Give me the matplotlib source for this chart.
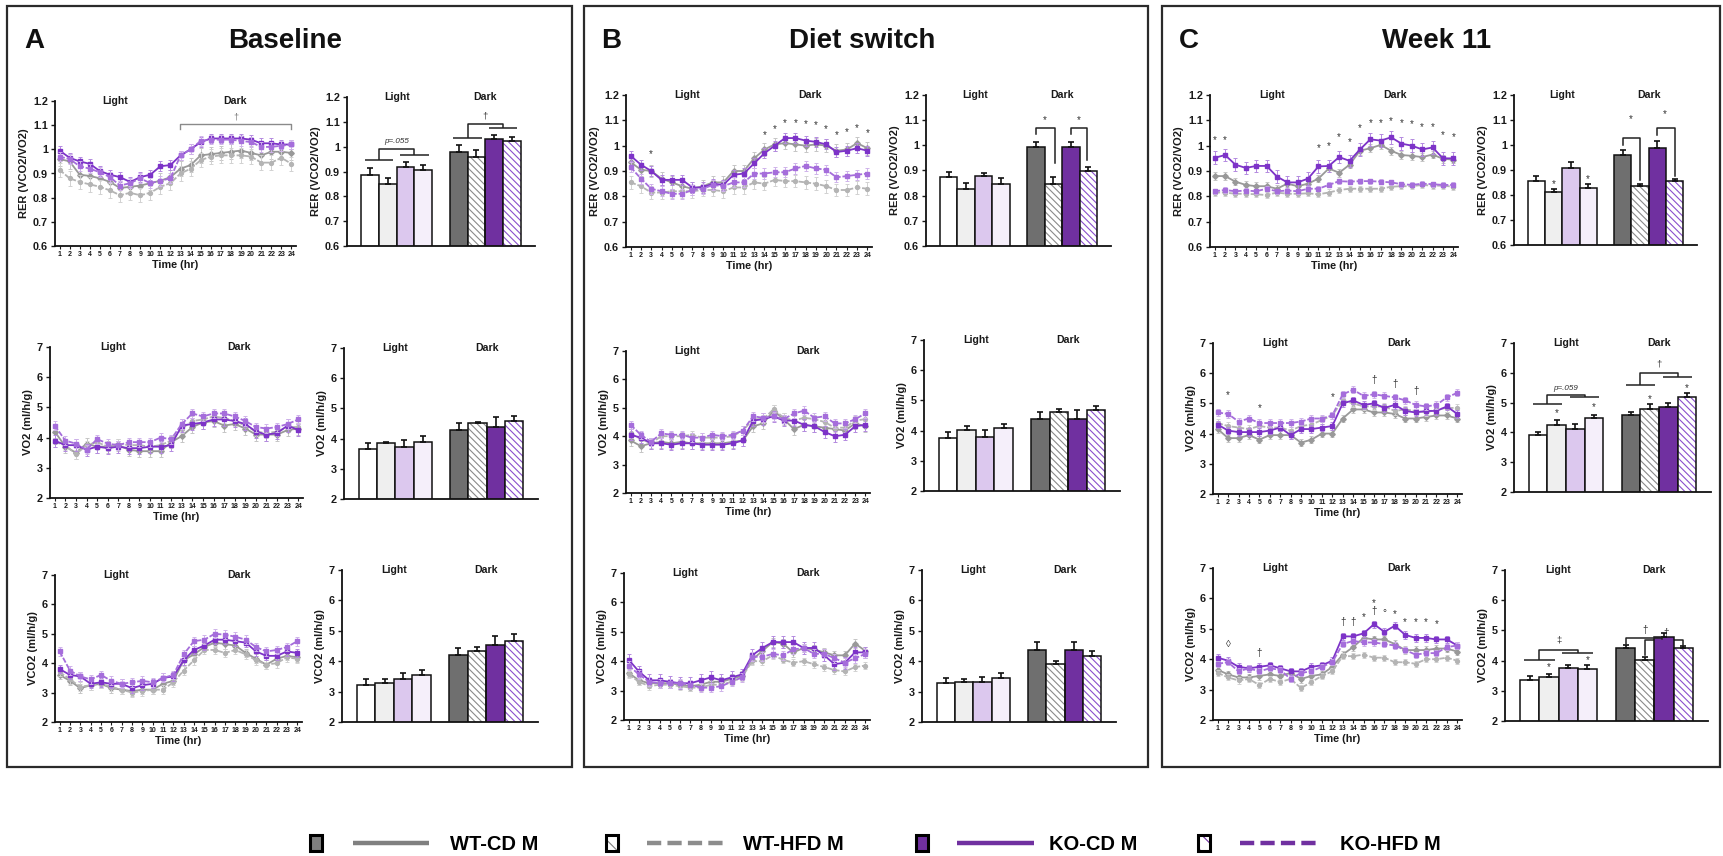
import matplotlib
matplotlib.use("Agg")
import matplotlib.pyplot as plt
import matplotlib.transforms as mtransforms
from matplotlib.patches import Rectangle

plt.rcParams['font.family'] = ['Liberation Sans', 'DejaVu Sans']
plt.rcParams['font.weight'] = 'bold'
plt.rcParams['hatch.linewidth'] = 0.8

FIG_W, FIG_H = 1723, 856

HOURS = list(range(1, 25))
GROUPS = ["WT-CD M", "WT-HFD M", "KO-CD M", "KO-HFD M"]
PHASES = ["Light", "Dark"]
PANEL_LETTERS = ["A", "B", "C"]
PANEL_TITLES = ["Baseline", "Diet switch", "Week 11"]
RER_TICKS = [0.6, 0.7, 0.8, 0.9, 1.0, 1.1, 1.2]
RER_TICKLABELS = ["0.6", "0.7", "0.8", "0.9", "1", "1.1", "1.2"]
GAS_TICKS = [2, 3, 4, 5, 6, 7]
GAS_TICKLABELS = ["2", "3", "4", "5", "6", "7"]
YLABELS = ["RER (VCO2/VO2)", "VO2 (ml/h/g)", "VCO2 (ml/h/g)"]

# ---------------- Panel A : Baseline (hourly means) ----------------
A_rer_wtcd = [0.96, 0.95, 0.895, 0.89, 0.88, 0.865, 0.84, 0.845, 0.85, 0.86, 0.87, 0.885, 0.92, 0.935, 0.975, 0.98, 0.985, 0.99, 0.995, 0.985, 0.975, 0.99, 0.99, 0.985]
A_rer_wthfd = [0.915, 0.88, 0.865, 0.855, 0.845, 0.83, 0.81, 0.82, 0.81, 0.82, 0.845, 0.86, 0.9, 0.92, 0.955, 0.97, 0.975, 0.975, 0.975, 0.97, 0.945, 0.945, 0.965, 0.94]
A_rer_kocd = [0.995, 0.965, 0.95, 0.94, 0.91, 0.895, 0.885, 0.865, 0.885, 0.895, 0.93, 0.935, 0.975, 1.0, 1.03, 1.045, 1.045, 1.045, 1.045, 1.04, 1.025, 1.025, 1.02, 1.02]
A_rer_kohfd = [0.97, 0.96, 0.93, 0.92, 0.905, 0.885, 0.85, 0.86, 0.88, 0.86, 0.87, 0.88, 0.975, 1.0, 1.035, 1.04, 1.04, 1.04, 1.035, 1.03, 1.01, 1.01, 1.015, 1.02]
A_rer_sem = [0.03, 0.03, 0.02, 0.02]

A_vo2_wtcd = [4.2, 3.7, 3.5, 3.8, 3.7, 3.7, 3.75, 3.6, 3.55, 3.55, 3.55, 3.85, 4.05, 4.35, 4.5, 4.55, 4.4, 4.45, 4.3, 4.1, 4.1, 4.1, 4.25, 4.3]
A_vo2_wthfd = [3.85, 3.75, 3.45, 3.75, 3.85, 3.7, 3.8, 3.75, 3.75, 3.7, 3.75, 3.9, 4.3, 4.55, 4.6, 4.7, 4.65, 4.55, 4.4, 4.2, 4.15, 4.2, 4.35, 4.35]
A_vo2_kocd = [3.9, 3.75, 3.75, 3.6, 3.7, 3.65, 3.7, 3.65, 3.65, 3.7, 3.7, 3.75, 4.4, 4.45, 4.5, 4.6, 4.6, 4.55, 4.45, 4.2, 4.1, 4.15, 4.4, 4.25]
A_vo2_kohfd = [4.4, 3.9, 3.8, 3.6, 3.95, 3.8, 3.75, 3.85, 3.85, 3.85, 4.0, 3.95, 4.45, 4.8, 4.7, 4.8, 4.8, 4.7, 4.55, 4.35, 4.3, 4.35, 4.45, 4.6]
A_vo2_sem = [0.2, 0.15, 0.2, 0.15]

A_vco2_wtcd = [3.6, 3.4, 3.15, 3.25, 3.3, 3.15, 3.1, 3.05, 3.1, 3.1, 3.3, 3.4, 4.1, 4.3, 4.55, 4.7, 4.65, 4.6, 4.35, 4.15, 3.95, 4.15, 4.25, 4.2]
A_vco2_wthfd = [3.7, 3.45, 3.2, 3.25, 3.3, 3.2, 3.1, 3.0, 3.05, 3.1, 3.1, 3.35, 3.75, 4.1, 4.45, 4.45, 4.35, 4.45, 4.3, 4.1, 3.95, 4.0, 4.2, 4.15]
A_vco2_kocd = [3.8, 3.6, 3.55, 3.3, 3.35, 3.3, 3.3, 3.15, 3.25, 3.3, 3.5, 3.55, 4.1, 4.45, 4.6, 4.8, 4.8, 4.75, 4.7, 4.4, 4.25, 4.25, 4.4, 4.35]
A_vco2_kohfd = [4.4, 3.75, 3.55, 3.45, 3.6, 3.4, 3.3, 3.35, 3.4, 3.35, 3.5, 3.6, 4.3, 4.75, 4.8, 5.0, 4.97, 4.9, 4.8, 4.55, 4.4, 4.45, 4.55, 4.75]
A_vco2_sem = [0.15, 0.15, 0.15, 0.15]

# ---------------- Panel B : Diet switch ----------------
B_rer_wtcd = [0.935, 0.905, 0.9, 0.87, 0.855, 0.84, 0.83, 0.84, 0.855, 0.855, 0.9, 0.9, 0.95, 0.985, 1.005, 1.01, 1.005, 1.0, 1.005, 1.0, 0.98, 0.985, 1.01, 0.99]
B_rer_wthfd = [0.855, 0.84, 0.815, 0.815, 0.82, 0.82, 0.82, 0.825, 0.825, 0.82, 0.835, 0.835, 0.855, 0.85, 0.865, 0.86, 0.86, 0.855, 0.85, 0.84, 0.825, 0.825, 0.835, 0.83]
B_rer_kocd = [0.96, 0.925, 0.9, 0.865, 0.865, 0.865, 0.835, 0.835, 0.85, 0.845, 0.885, 0.89, 0.93, 0.97, 1.0, 1.03, 1.03, 1.02, 1.015, 1.005, 0.975, 0.98, 0.99, 0.98]
B_rer_kohfd = [0.915, 0.87, 0.83, 0.82, 0.81, 0.81, 0.825, 0.83, 0.845, 0.84, 0.855, 0.855, 0.89, 0.89, 0.895, 0.895, 0.91, 0.92, 0.91, 0.905, 0.875, 0.88, 0.885, 0.89]
B_rer_sem = [0.025, 0.025, 0.02, 0.02]

B_vo2_wtcd = [3.85, 3.65, 3.75, 3.8, 3.75, 3.8, 3.75, 3.75, 3.75, 3.75, 3.8, 3.85, 4.35, 4.45, 4.9, 4.6, 4.25, 4.4, 4.35, 4.3, 4.25, 4.2, 4.45, 4.35]
B_vo2_wthfd = [4.1, 3.9, 3.75, 4.0, 4.0, 4.0, 4.05, 3.95, 3.95, 3.95, 4.0, 4.2, 4.6, 4.6, 4.95, 4.65, 4.55, 4.65, 4.6, 4.5, 4.3, 4.3, 4.55, 4.6]
B_vo2_kocd = [4.05, 3.95, 3.75, 3.75, 3.7, 3.75, 3.75, 3.7, 3.7, 3.7, 3.75, 3.85, 4.55, 4.6, 4.7, 4.55, 4.55, 4.4, 4.35, 4.15, 4.0, 4.05, 4.35, 4.4]
B_vo2_kohfd = [4.4, 4.05, 3.8, 4.1, 4.05, 4.05, 3.95, 3.95, 4.05, 4.0, 4.05, 4.2, 4.7, 4.65, 4.7, 4.6, 4.8, 4.9, 4.65, 4.7, 4.45, 4.45, 4.6, 4.8]
B_vo2_sem = [0.2, 0.15, 0.2, 0.15]

B_vco2_wtcd = [3.6, 3.35, 3.25, 3.25, 3.25, 3.2, 3.15, 3.2, 3.3, 3.3, 3.4, 3.5, 4.05, 4.35, 4.65, 4.6, 4.3, 4.45, 4.4, 4.3, 4.2, 4.2, 4.6, 4.35]
B_vco2_wthfd = [3.55, 3.3, 3.15, 3.2, 3.2, 3.15, 3.1, 3.1, 3.2, 3.2, 3.3, 3.45, 4.0, 4.0, 4.2, 4.05, 3.95, 4.0, 3.9, 3.8, 3.7, 3.65, 3.8, 3.85]
B_vco2_kocd = [4.05, 3.65, 3.35, 3.35, 3.3, 3.25, 3.25, 3.35, 3.45, 3.35, 3.45, 3.55, 4.2, 4.45, 4.65, 4.65, 4.65, 4.45, 4.45, 4.2, 3.9, 3.95, 4.3, 4.3]
B_vco2_kohfd = [3.85, 3.55, 3.3, 3.25, 3.25, 3.25, 3.2, 3.1, 3.1, 3.15, 3.3, 3.45, 4.15, 4.15, 4.25, 4.2, 4.4, 4.45, 4.25, 4.25, 4.1, 3.95, 4.1, 4.25]
B_vco2_sem = [0.15, 0.12, 0.2, 0.15]

# ---------------- Panel C : Week 11 ----------------
C_rer_wtcd = [0.88, 0.88, 0.858, 0.845, 0.84, 0.84, 0.83, 0.85, 0.84, 0.85, 0.87, 0.91, 0.893, 0.925, 0.98, 0.99, 1.003, 0.98, 0.963, 0.96, 0.955, 0.965, 0.948, 0.945]
C_rer_wthfd = [0.815, 0.815, 0.81, 0.81, 0.808, 0.805, 0.815, 0.81, 0.81, 0.812, 0.808, 0.815, 0.825, 0.83, 0.83, 0.83, 0.83, 0.838, 0.84, 0.84, 0.845, 0.842, 0.842, 0.838]
C_rer_kocd = [0.952, 0.963, 0.925, 0.912, 0.92, 0.92, 0.878, 0.855, 0.855, 0.87, 0.918, 0.92, 0.955, 0.94, 0.985, 1.025, 1.02, 1.033, 1.008, 1.0, 0.985, 0.993, 0.95, 0.95]
C_rer_kohfd = [0.82, 0.825, 0.82, 0.823, 0.82, 0.83, 0.82, 0.823, 0.82, 0.83, 0.83, 0.845, 0.86, 0.858, 0.86, 0.86, 0.858, 0.855, 0.848, 0.845, 0.85, 0.848, 0.845, 0.845]
C_rer_sem = [0.015, 0.012, 0.025, 0.01]

C_vo2_wtcd = [4.15, 3.85, 3.85, 3.95, 3.8, 3.95, 3.95, 3.95, 3.7, 3.8, 4.0, 4.0, 4.5, 4.8, 4.8, 4.7, 4.7, 4.65, 4.5, 4.5, 4.55, 4.6, 4.6, 4.5]
C_vo2_wthfd = [4.35, 4.25, 4.2, 4.15, 4.25, 4.2, 4.2, 4.1, 4.25, 4.3, 4.45, 4.6, 5.1, 5.0, 4.9, 4.9, 4.9, 4.75, 4.8, 4.75, 4.7, 4.8, 4.85, 4.85]
C_vo2_kocd = [4.3, 4.1, 4.05, 4.05, 4.05, 4.1, 4.2, 3.95, 4.15, 4.15, 4.2, 4.25, 5.0, 5.1, 4.95, 5.0, 4.85, 4.95, 4.75, 4.7, 4.75, 4.75, 4.9, 4.65]
C_vo2_kohfd = [4.7, 4.65, 4.4, 4.5, 4.35, 4.35, 4.35, 4.35, 4.4, 4.5, 4.5, 4.6, 5.3, 5.45, 5.25, 5.3, 5.25, 5.2, 5.1, 4.95, 4.9, 4.95, 5.2, 5.35]
C_vo2_sem = [0.12, 0.12, 0.12, 0.12]

C_vco2_wtcd = [3.65, 3.5, 3.4, 3.4, 3.45, 3.5, 3.45, 3.55, 3.35, 3.45, 3.5, 3.75, 4.15, 4.4, 4.7, 4.65, 4.65, 4.5, 4.3, 4.3, 4.3, 4.35, 4.35, 4.25]
C_vco2_wthfd = [3.55, 3.4, 3.3, 3.35, 3.15, 3.35, 3.25, 3.35, 3.05, 3.25, 3.45, 3.6, 4.1, 4.1, 4.15, 4.05, 4.05, 3.9, 3.9, 3.85, 4.0, 4.0, 4.05, 3.95]
C_vco2_kocd = [4.05, 3.95, 3.75, 3.7, 3.75, 3.8, 3.7, 3.6, 3.6, 3.75, 3.8, 3.95, 4.75, 4.75, 4.85, 5.15, 4.9, 5.1, 4.8, 4.7, 4.7, 4.65, 4.65, 4.45]
C_vco2_kohfd = [3.85, 3.9, 3.6, 3.7, 3.6, 3.7, 3.65, 3.35, 3.55, 3.6, 3.75, 3.9, 4.5, 4.6, 4.55, 4.55, 4.5, 4.45, 4.3, 4.15, 4.2, 4.2, 4.4, 4.45]
C_vco2_sem = [0.12, 0.1, 0.12, 0.1]

# ---------------- Light / Dark phase means (bars), order WT-CD, WT-HFD, KO-CD, KO-HFD ----------------
A_rer_light = [0.885, 0.85, 0.918, 0.907];  A_rer_light_err = [0.03, 0.025, 0.02, 0.02]
A_rer_dark = [0.977, 0.96, 1.03, 1.022];    A_rer_dark_err = [0.03, 0.025, 0.018, 0.017]
A_vo2_light = [3.65, 3.87, 3.73, 3.9];      A_vo2_light_err = [0.2, 0.02, 0.22, 0.17]
A_vo2_dark = [4.3, 4.52, 4.4, 4.58];        A_vo2_dark_err = [0.22, 0.02, 0.3, 0.17]
A_vco2_light = [3.22, 3.28, 3.4, 3.53];     A_vco2_light_err = [0.2, 0.12, 0.2, 0.17]
A_vco2_dark = [4.2, 4.33, 4.52, 4.68];      A_vco2_dark_err = [0.25, 0.15, 0.3, 0.2]

B_rer_light = [0.875, 0.825, 0.877, 0.847]; B_rer_light_err = [0.02, 0.025, 0.015, 0.022]
B_rer_dark = [0.995, 0.848, 0.995, 0.897];  B_rer_dark_err = [0.02, 0.025, 0.017, 0.018]
B_vo2_light = [3.75, 4.03, 3.8, 4.07];      B_vo2_light_err = [0.2, 0.12, 0.22, 0.15]
B_vo2_dark = [4.4, 4.62, 4.4, 4.68];        B_vo2_dark_err = [0.22, 0.1, 0.28, 0.15]
B_vco2_light = [3.27, 3.3, 3.3, 3.44];      B_vco2_light_err = [0.17, 0.1, 0.18, 0.17]
B_vco2_dark = [4.37, 3.9, 4.37, 4.18];      B_vco2_dark_err = [0.25, 0.12, 0.27, 0.17]

C_rer_light = [0.858, 0.813, 0.91, 0.828];  C_rer_light_err = [0.018, 0.012, 0.022, 0.015]
C_rer_dark = [0.962, 0.838, 0.988, 0.855];  C_rer_dark_err = [0.018, 0.008, 0.03, 0.01]
C_vo2_light = [3.9, 4.25, 4.12, 4.47];      C_vo2_light_err = [0.12, 0.15, 0.15, 0.12]
C_vo2_dark = [4.6, 4.8, 4.85, 5.18];        C_vo2_dark_err = [0.1, 0.15, 0.15, 0.13]
C_vco2_light = [3.35, 3.47, 3.75, 3.72];    C_vco2_light_err = [0.13, 0.1, 0.12, 0.12]
C_vco2_dark = [4.42, 4.03, 4.78, 4.42];     C_vco2_dark_err = [0.1, 0.1, 0.12, 0.08]

# ---------------- significance marks ----------------
A_rer_line_bracket = [12.9, 24.0, 1.085, 1.105]     # x0, x1, leg end, top
A_rer_line_bracket_mark = ("\u2020", 18.5, 1.135)
B_rer_star_hours = [3, 14, 15, 16, 17, 18, 19, 20, 21, 22, 23, 24]
B_rer_star_y = [0.965, 1.04, 1.066, 1.09, 1.09, 1.085, 1.083, 1.066, 1.04, 1.052, 1.068, 1.048]
C_rer_star_hours = [1, 2, 11, 12, 13, 14, 15, 16, 17, 18, 19, 20, 21, 22, 23, 24]
C_rer_star_y = [1.022, 1.022, 0.989, 0.998, 1.032, 1.015, 1.068, 1.09, 1.09, 1.098, 1.088, 1.085, 1.075, 1.075, 1.042, 1.035]
C_vo2_marks = [(2, "*", 5.26), (5, "*", 4.85), (12, "*", 5.2), (16, "\u2020", 5.76), (18, "\u2020", 5.65), (20, "\u2020", 5.4)]
C_vco2_marks = [(2, "\u25ca", 4.5), (5, "\u2020", 4.21), (13, "\u2020", 5.23), (14, "\u2020", 5.23), (15, "*", 5.4),
                (16, "*", 5.86), (16, "\u2020", 5.57), (17, "\u00b0", 5.5), (18, "*", 5.5), (19, "*", 5.23),
                (20, "*", 5.23), (21, "*", 5.23), (22, "*", 5.15)]

# group brackets on bar charts: (WT start bar, KO start bar, y WT line, y KO line, y top, label, y label)
A_rer_group_brackets = [(0, 2, 0.946, 0.967, 0.99, "p=.055", 1.02), (5, 7, 1.035, 1.077, 1.09, "\u2020", 1.125)]
C_vo2_group_brackets = [(0, 2, 4.94, 5.2, 5.25, "p=.059", 5.47), (5, 7, 5.6, 5.85, 5.99, "\u2020", 6.3)]
C_vco2_group_brackets = [(0, 2, 4.03, 4.25, 4.36, "\u2021", 4.69)]
# pair brackets: (x left, x right, y top, y left leg, y right leg, label, x label, y label)
B_rer_pair_brackets = [(5.0, 6.1, 1.067, 1.047, 0.93, "*", 5.5, 1.1), (7.0, 7.95, 1.067, 1.047, 0.94, "*", 7.45, 1.1)]
C_rer_pair_brackets = [(5.0, 6.0, 1.027, 1.0, 0.86, "*", 5.45, 1.105), (7.0, 8.0, 1.067, 1.04, 0.875, "*", 7.45, 1.125)]
C_vco2_pair_brackets = [(5.0, 6.9, 4.75, 4.55, 4.72, "\u2020", 6.0, 5.02), (6.0, 8.0, 4.68, 4.17, 4.52, "\u2020", 7.1, 4.9)]
C_rer_bar_stars = [(1, 0.845), (3, 0.862)]
C_vo2_bar_stars = [(1, 4.66), (3, 4.86), (6, 5.12), (8, 5.48)]
C_vco2_bar_stars = [(1, 3.77), (3, 4.02)]

# ---------------- assemble ----------------
LINE_SERIES = [
    [([A_rer_wtcd, A_rer_wthfd, A_rer_kocd, A_rer_kohfd], A_rer_sem),
     ([A_vo2_wtcd, A_vo2_wthfd, A_vo2_kocd, A_vo2_kohfd], A_vo2_sem),
     ([A_vco2_wtcd, A_vco2_wthfd, A_vco2_kocd, A_vco2_kohfd], A_vco2_sem)],
    [([B_rer_wtcd, B_rer_wthfd, B_rer_kocd, B_rer_kohfd], B_rer_sem),
     ([B_vo2_wtcd, B_vo2_wthfd, B_vo2_kocd, B_vo2_kohfd], B_vo2_sem),
     ([B_vco2_wtcd, B_vco2_wthfd, B_vco2_kocd, B_vco2_kohfd], B_vco2_sem)],
    [([C_rer_wtcd, C_rer_wthfd, C_rer_kocd, C_rer_kohfd], C_rer_sem),
     ([C_vo2_wtcd, C_vo2_wthfd, C_vo2_kocd, C_vo2_kohfd], C_vo2_sem),
     ([C_vco2_wtcd, C_vco2_wthfd, C_vco2_kocd, C_vco2_kohfd], C_vco2_sem)],
]
BAR_SERIES = [
    [(A_rer_light, A_rer_light_err, A_rer_dark, A_rer_dark_err),
     (A_vo2_light, A_vo2_light_err, A_vo2_dark, A_vo2_dark_err),
     (A_vco2_light, A_vco2_light_err, A_vco2_dark, A_vco2_dark_err)],
    [(B_rer_light, B_rer_light_err, B_rer_dark, B_rer_dark_err),
     (B_vo2_light, B_vo2_light_err, B_vo2_dark, B_vo2_dark_err),
     (B_vco2_light, B_vco2_light_err, B_vco2_dark, B_vco2_dark_err)],
    [(C_rer_light, C_rer_light_err, C_rer_dark, C_rer_dark_err),
     (C_vo2_light, C_vo2_light_err, C_vo2_dark, C_vo2_dark_err),
     (C_vco2_light, C_vco2_light_err, C_vco2_dark, C_vco2_dark_err)],
]

# ---------------- layout (pixel boxes: x0, y0, x1, y1 from top-left) ----------------
PANEL_BOXES = [(7, 6, 572, 767), (584, 6, 1148, 767), (1162, 6, 1720, 767)]
LINE_BOXES = [
    [(55, 101, 296, 246), (50, 347, 303, 498), (55, 575, 302, 722)],
    [(626, 95, 872, 247), (626, 351, 870, 493), (624, 573, 870, 720)],
    [(1210, 95, 1458, 247), (1213, 343, 1462, 494), (1213, 568, 1462, 720)],
]
BAR_BOXES = [
    [(347, 97, 535, 246), (344, 348, 538, 499), (342, 570, 538, 722)],
    [(926, 95, 1111, 246), (924, 340, 1120, 491), (922, 570, 1116, 722)],
    [(1514, 95, 1697, 245), (1514, 343, 1711, 492), (1505, 570, 1708, 721)],
]

SERIES_STYLE = [
    dict(color='#999999', marker='D', ms=2.8, ls='-', ecolor='#c6c6c6'),
    dict(color='#b4b4b4', marker='o', ms=2.8, ls=(0, (3, 1)), ecolor='#d2d2d2'),
    dict(color='#7d33c8', marker='s', ms=3.3, ls='-', ecolor='#b48be0'),
    dict(color='#a56ddb', marker='s', ms=3.0, ls=(0, (3, 1)), ecolor='#cfb3ea'),
]
LIGHT_FACES = ['#ffffff', '#efefef', '#dcc8ee', '#f5effa']
DARK_FACES = ['#6f6f6f', None, '#7030a0', None]
HATCH_COLORS = [None, '#8a8a8a', None, '#8a4fcc']
HATCH = '\\\\\\\\\\'
TXT = '#1a1a1a'


def add_px_axes(fig, box):
    x0, y0, x1, y1 = box
    return fig.add_axes([x0 / FIG_W, 1 - y1 / FIG_H, (x1 - x0) / FIG_W, (y1 - y0) / FIG_H])


def style_axes(ax, row):
    for s in ['top', 'right']:
        ax.spines[s].set_visible(False)
    for s in ['left', 'bottom']:
        ax.spines[s].set_linewidth(1.3)
        ax.spines[s].set_color('#111111')
    ax.set_facecolor('none')
    if row == 0:
        ax.set_ylim(0.6, 1.2)
        ax.set_yticks(RER_TICKS)
        ax.set_yticklabels(RER_TICKLABELS)
    else:
        ax.set_ylim(2, 7)
        ax.set_yticks(GAS_TICKS)
        ax.set_yticklabels(GAS_TICKLABELS)
    ax.tick_params(axis='y', length=3, width=1, labelsize=7.8, pad=2, colors=TXT)
    ax.set_ylabel(YLABELS[row], fontsize=8, fontweight='bold', labelpad=3, color=TXT)


def phase_labels(ax, xs):
    tr = mtransforms.blended_transform_factory(ax.transData, ax.transAxes)
    for x, lab in zip(xs, PHASES):
        ax.text(x, 1.0, lab, transform=tr, ha='center', va='center', fontsize=7.6,
                fontweight='bold', color=TXT)


def line_chart(ax, series, sems, row):
    for i in [1, 0, 3, 2]:
        st = SERIES_STYLE[i]
        ax.errorbar(HOURS, series[i], yerr=sems[i], color=st['color'], linestyle=st['ls'], lw=1.3,
                    marker=st['marker'], ms=st['ms'], mfc=st['color'], mec=st['color'],
                    ecolor=st['ecolor'], elinewidth=0.7, capsize=1.3, capthick=0.7, zorder=3 + i,
                    clip_on=False)
    style_axes(ax, row)
    ax.set_xlim(0.55, 24.45)
    ax.set_xticks(HOURS)
    ax.set_xticklabels([str(h) for h in HOURS], fontsize=5.0)
    ax.tick_params(axis='x', length=2, width=0.8, pad=1.5, colors=TXT)
    ax.set_xlabel("Time (hr)", fontsize=7.8, fontweight='bold', labelpad=1.5, color=TXT)
    phase_labels(ax, [6.5, 18.4])


def bar_chart(ax, light, light_err, dark, dark_err, row):
    xs_l = [0, 1, 2, 3]
    xs_d = [5, 6, 7, 8]
    for i in range(4):
        ax.bar(xs_l[i], light[i], width=1.0, color=LIGHT_FACES[i], edgecolor='#111111', lw=1.1, zorder=2)
        if DARK_FACES[i] is not None:
            ax.bar(xs_d[i], dark[i], width=1.0, color=DARK_FACES[i], edgecolor='#111111', lw=1.1, zorder=2)
        else:
            ax.bar(xs_d[i], dark[i], width=1.0, color='white', edgecolor=HATCH_COLORS[i], hatch=HATCH,
                   lw=0, zorder=2)
            ax.bar(xs_d[i], dark[i], width=1.0, fill=False, edgecolor='#111111', lw=1.1, zorder=2.5)
    ax.errorbar(xs_l, light, yerr=[[0] * 4, light_err], fmt='none', ecolor='#111111', elinewidth=1.2,
                capsize=2.0, capthick=1.2, zorder=4)
    ax.errorbar(xs_d, dark, yerr=[[0] * 4, dark_err], fmt='none', ecolor='#111111', elinewidth=1.2,
                capsize=2.0, capthick=1.2, zorder=4)
    style_axes(ax, row)
    ax.set_xlim(-1.3, 9.3)
    ax.set_xticks([])
    phase_labels(ax, [1.5, 6.5])


def group_brackets(ax, specs):
    for a, b, yl, yr, yt, lab, ylab in specs:
        kw = dict(color='#222222', lw=1.1, zorder=5, solid_capstyle='butt')
        ax.plot([a - 0.3, a + 1.3], [yl, yl], **kw)
        ax.plot([b - 0.3, b + 1.3], [yr, yr], **kw)
        ax.plot([a + 0.5, a + 0.5, b + 0.5, b + 0.5], [yl, yt, yt, yr], **kw)
        if lab.startswith('p'):
            ax.text((a + b) / 2 + 0.5, ylab, lab, ha='center', va='center', fontsize=5.8,
                    style='italic', fontweight='normal', color='#333333')
        else:
            ax.text((a + b) / 2 + 0.5, ylab, lab, ha='center', va='center', fontsize=6.8,
                    fontweight='normal', color='#333333')


def pair_brackets(ax, specs, zorder=5):
    for x1, x2, yt, yl, yr, lab, xl, ylab in specs:
        ax.plot([x1, x1, x2, x2], [yl, yt, yt, yr], color='#222222', lw=1.1, zorder=zorder)
        ax.text(xl, ylab, lab, ha='center', va='center', fontsize=7, fontweight='normal', color='#333333')


def marks(ax, items, fs=7):
    for x, lab, y in items:
        ax.text(x, y, lab, ha='center', va='center', fontsize=fs, fontweight='normal', color='#333333')


fig = plt.figure(figsize=(FIG_W / 100, FIG_H / 100), dpi=100)
fig.patch.set_facecolor('white')

ov = fig.add_axes([0, 0, 1, 1], zorder=-1)
ov.set_xlim(0, FIG_W)
ov.set_ylim(FIG_H, 0)
ov.axis('off')

for p, (x0, y0, x1, y1) in enumerate(PANEL_BOXES):
    ov.add_patch(Rectangle((x0, y0), x1 - x0, y1 - y0, fill=False, edgecolor='#2b2b2b', lw=1.6))
    ov.text(x0 + 17, 41, PANEL_LETTERS[p], ha='left', va='center', fontsize=20, fontweight='bold', color='#111')
    ov.text((x0 + x1) / 2 - 4, 41, PANEL_TITLES[p], ha='center', va='center', fontsize=20,
            fontweight='bold', color='#111')

for p in range(3):
    for r in range(3):
        axl = add_px_axes(fig, LINE_BOXES[p][r])
        series, sems = LINE_SERIES[p][r]
        line_chart(axl, series, sems, r)
        axb = add_px_axes(fig, BAR_BOXES[p][r])
        light, le, dark, de = BAR_SERIES[p][r]
        bar_chart(axb, light, le, dark, de, r)

        if (p, r) == (0, 0):
            x0, x1, ye, yt = A_rer_line_bracket
            axl.plot([x0, x0, x1, x1], [ye, yt, yt, ye], color='#8a8a8a', lw=1.0, zorder=6)
            lab, xl, yl = A_rer_line_bracket_mark
            axl.text(xl, yl, lab, ha='center', va='center', fontsize=6.5, fontweight='normal', color='#777777')
            group_brackets(axb, A_rer_group_brackets)
        if (p, r) == (1, 0):
            marks(axl, [(h, "*", y) for h, y in zip(B_rer_star_hours, B_rer_star_y)])
            pair_brackets(axb, B_rer_pair_brackets)
        if (p, r) == (2, 0):
            marks(axl, [(h, "*", y) for h, y in zip(C_rer_star_hours, C_rer_star_y)])
            pair_brackets(axb, C_rer_pair_brackets)
            marks(axb, [(x, "*", y) for x, y in C_rer_bar_stars])
        if (p, r) == (2, 1):
            marks(axl, C_vo2_marks)
            group_brackets(axb, C_vo2_group_brackets)
            marks(axb, [(x, "*", y) for x, y in C_vo2_bar_stars])
        if (p, r) == (2, 2):
            marks(axl, C_vco2_marks)
            group_brackets(axb, C_vco2_group_brackets)
            pair_brackets(axb, C_vco2_pair_brackets[:1])
            pair_brackets(axb, C_vco2_pair_brackets[1:], zorder=1.5)
            marks(axb, [(x, "*", y) for x, y in C_vco2_bar_stars])

# ---------------- legend ----------------
LEG_SQ_X = [310, 606, 916, 1198]
LEG_LINE_X = [(353, 429), (647, 724), (957, 1034), (1240, 1317)]
LEG_TXT_X = [450, 743, 1049, 1340]
LEG_Y = 843
LEG_LINE_COLORS = ['#808080', '#8c8c8c', '#7030a0', '#7030a0']
LEG_LINE_STYLES = ['-', (0, (3.2, 1.4)), '-', (0, (3.2, 1.4))]
LEG_HATCH_COLORS = [None, '#7f7f7f', None, '#7030a0']
LEG_FACES = ['#7f7f7f', 'white', '#7030a0', 'white']
for i, name in enumerate(GROUPS):
    sx = LEG_SQ_X[i]
    if LEG_HATCH_COLORS[i] is None:
        ov.add_patch(Rectangle((sx, LEG_Y - 8), 12, 16, facecolor=LEG_FACES[i], edgecolor='black', lw=2.2))
    else:
        ov.add_patch(Rectangle((sx, LEG_Y - 8), 12, 16, facecolor='white', edgecolor=LEG_HATCH_COLORS[i],
                               hatch='\\\\', lw=0))
        ov.add_patch(Rectangle((sx, LEG_Y - 8), 12, 16, fill=False, edgecolor='black', lw=2.2))
    lx0, lx1 = LEG_LINE_X[i]
    ov.plot([lx0, lx1], [LEG_Y, LEG_Y], color=LEG_LINE_COLORS[i], lw=3.2, linestyle=LEG_LINE_STYLES[i],
            solid_capstyle='butt', dash_capstyle='butt')
    ov.text(LEG_TXT_X[i], LEG_Y + 1, name, ha='left', va='center', fontsize=14.5, fontweight='bold', color='black')

fig.savefig("out.png", dpi=100, facecolor='white')
